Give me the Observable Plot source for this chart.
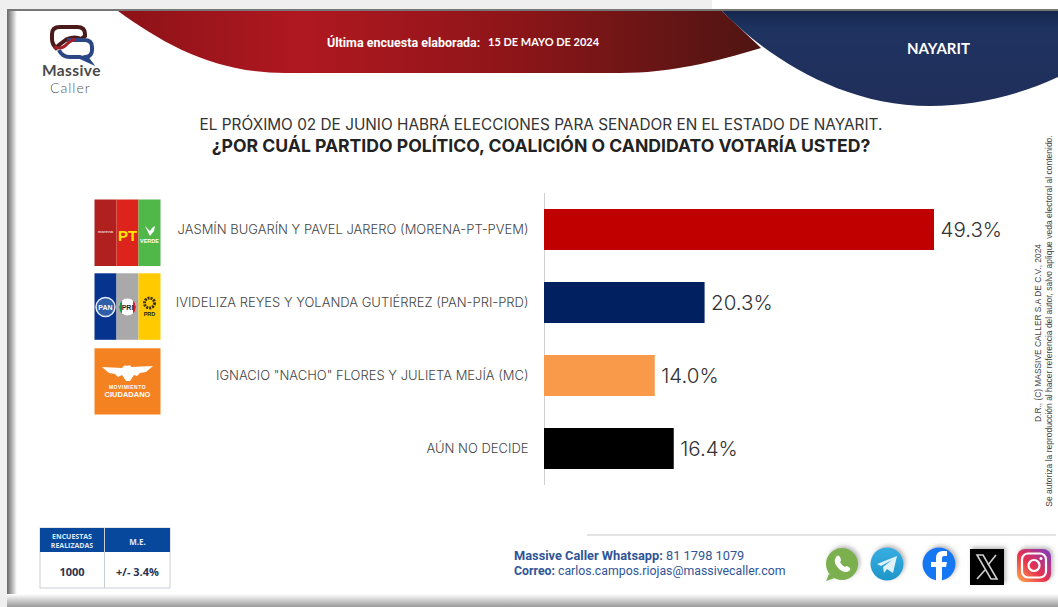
<!DOCTYPE html>
<html lang="es"><head><meta charset="utf-8">
<script src="https://cdn.jsdelivr.net/npm/d3@7"></script>
<script src="https://cdn.jsdelivr.net/npm/@observablehq/plot@0.6"></script>
<style>
html,body{margin:0;padding:0;background:#fff;overflow:hidden}
#page{position:relative;width:1058px;height:607px;overflow:hidden;font-family:Inter,sans-serif}
#deco,#chart{position:absolute;left:0;top:0}
.t{position:absolute;white-space:nowrap;line-height:1}
</style></head><body>
<div id="page">
<svg id="deco" width="1058" height="607" viewBox="0 0 1058 607" xmlns="http://www.w3.org/2000/svg">
<defs>
<linearGradient id="red" x1="118" x2="770" y1="0" y2="0" gradientUnits="userSpaceOnUse">
<stop offset="0" stop-color="#8c1218"/><stop offset=".28" stop-color="#b01820"/><stop offset=".6" stop-color="#8e1519"/><stop offset="1" stop-color="#4c1512"/></linearGradient>
<linearGradient id="navy" x1="0" x2="0" y1="10" y2="106" gradientUnits="userSpaceOnUse">
<stop offset="0" stop-color="#14264c"/><stop offset=".2" stop-color="#1f3361"/><stop offset="1" stop-color="#202e5a"/></linearGradient>
<linearGradient id="ls" x1="0" x2="1" y1="0" y2="0"><stop offset="0" stop-color="#666"/><stop offset="1" stop-color="#fff"/></linearGradient>
<linearGradient id="bs" x1="0" x2="0" y1="0" y2="1"><stop offset="0" stop-color="#fff"/><stop offset="1" stop-color="#999"/></linearGradient>
<linearGradient id="ig" x1="0" x2="1" y1="1" y2="0"><stop offset="0" stop-color="#fdb04b"/><stop offset=".45" stop-color="#e8304f"/><stop offset="1" stop-color="#7b3bc4"/></linearGradient>
<linearGradient id="tg" x1="0" x2="0" y1="0" y2="1"><stop offset="0" stop-color="#37aee2"/><stop offset="1" stop-color="#1e96c8"/></linearGradient>
<filter id="sh" x="-20%" y="-20%" width="140%" height="140%"><feDropShadow dx="2" dy="-2" stdDeviation="2" flood-color="#888" flood-opacity=".6"/></filter>
</defs>
<rect width="1058" height="607" fill="#fff"/>
<rect x="0" y="0" width="712" height="10" fill="#efefef"/>
<rect x="0" y="0" width="7" height="607" fill="#efefef"/>
<rect x="7" y="10" width="10" height="597" fill="url(#ls)"/>
<rect x="7" y="594" width="1051" height="13" fill="url(#bs)"/>
<rect x="7" y="9" width="1051" height="2" fill="#777"/>
<path d="M118 11C165 45 215 73 285 73L620 73C670 73 715 62 761 48L722 11Z" fill="url(#red)"/>
<path d="M722 11C765 55 840 106 930 106C975 106 1020 95 1058 77L1058 11Z" fill="url(#navy)"/>
<!-- logo -->
<path d="M60 27h17q8 0 8 7v2l-4 3q-6-3-14 0l-8 6l-3 3q-4-4-4-9v-5q0-7 8-7z" fill="none" stroke="#4a1a1a" stroke-width="4"/>
<path d="M67 40h17q8 0 8 7v3q0 6-6 7l3 4l-9-4H70q-8 0-11-7" fill="none" stroke="#2b4685" stroke-width="4"/>
<path d="M54 47q8 3 13-3q3-3 8-5" fill="none" stroke="#a3202a" stroke-width="3"/>
<!-- party boxes -->
<rect x="94.500" y="199.500" width="22" height="66.500" fill="#b0201f"/>
<rect x="116.500" y="199.500" width="22" height="66.500" fill="#dc241c"/>
<rect x="138.500" y="199.500" width="22" height="66.500" fill="#50b848"/>
<text x="105.500" y="233" font-family="Liberation Sans" font-size="4.200" font-weight="700" fill="#f4d8d0" text-anchor="middle">morena</text>
<text x="127.500" y="241" font-family="Liberation Sans" font-size="15" font-weight="700" fill="#ffe600" text-anchor="middle">PT</text>
<text x="149.500" y="243" font-family="Liberation Sans" font-size="5.500" font-weight="700" fill="#fff" text-anchor="middle">VERDE</text>
<path d="M145 226l5 10l4-5l1-5l-3 2l-2 3z" fill="#fff"/>
<rect x="94.500" y="273.300" width="22" height="66.500" fill="#06338e"/>
<rect x="116.500" y="273.300" width="22" height="66.500" fill="#a9a9a9"/>
<rect x="138.500" y="273.300" width="22" height="66.500" fill="#ffcb00"/>
<circle cx="105.500" cy="307" r="9.500" fill="#2f5da8" stroke="#dfe8f5" stroke-width="1.500"/>
<text x="105.500" y="310" font-family="Liberation Sans" font-size="7" font-weight="700" fill="#fff" text-anchor="middle">PAN</text>
<circle cx="127.500" cy="307" r="8.500" fill="#fff"/>
<path d="M122 300.500v13a8.500 8.500 0 0 1 0-13z" fill="#129a4a"/>
<path d="M133 300.500v13a8.500 8.500 0 0 0 0-13z" fill="#d8202a"/>
<text x="127.500" y="310" font-family="Liberation Sans" font-size="7" font-weight="700" fill="#222" text-anchor="middle">PRI</text>
<circle cx="149.500" cy="303" r="5" fill="none" stroke="#3a3000" stroke-width="3" stroke-dasharray="2 1"/>
<text x="149.500" y="316" font-family="Liberation Sans" font-size="5.500" font-weight="700" fill="#222" text-anchor="middle">PRD</text>
<rect x="94.500" y="348.300" width="66" height="66.200" fill="#f58220"/>
<path d="M102 367l20 1q3-4 5-2q4-2 4 1l22-1l-7 6l-6 1l-3 3l-3-1l-4 6h-4l-4-6l-4 2l-3-3l-6-1z" fill="#fff"/>
<text x="127.500" y="388.500" font-family="Liberation Sans" font-size="5" font-weight="700" fill="#fff" text-anchor="middle" letter-spacing=".5">MOVIMIENTO</text>
<text x="127.500" y="397" font-family="Liberation Sans" font-size="7.500" font-weight="700" fill="#fff" text-anchor="middle">CIUDADANO</text>
<!-- table -->
<rect x="40" y="528" width="130" height="60" fill="#fff" stroke="#c9ced6"/>
<rect x="40" y="528" width="130" height="24" fill="#07479c"/>
<line x1="104.500" x2="104.500" y1="528" y2="588" stroke="#c9ced6"/>
<!-- footer -->
<line x1="587" x2="1056" y1="535" y2="535" stroke="#c8c8c8"/>
<g filter="url(#sh)"><circle cx="842" cy="564" r="16" fill="#7cb04f"/><path d="M829 574l-3 7l9-3z" fill="#7cb04f"/></g>
<path d="M836 557q2-3 4 0l1 3q0 1-1 2q2 4 5 5q1-1 2-1l3 2q1 2-1 3q-3 2-7 0q-5-3-7-8q-1-3 1-6z" fill="#fff"/>
<circle cx="887" cy="564" r="16.500" fill="url(#tg)" filter="url(#sh)"/>
<path d="M877 564l20-8l-4 17l-6-4l-3 4l-1-6l9-7l-11 6z" fill="#dff1fa"/>
<circle cx="939" cy="564" r="16.500" fill="#1877f2" filter="url(#sh)"/>
<path d="M936 581v-14h-5v-5h5v-4q0-7 7-7h4v5h-3q-2 0-2 2v4h5l-1 5h-4v14z" fill="#fff"/>
<rect x="970" y="549" width="34" height="36" fill="#000" filter="url(#sh)"/>
<path d="M977 555h6l14 24h-6z" fill="none" stroke="#cfcfcf" stroke-width="1.600"/>
<path d="M996 555l-8 10M985 570l-8 9" stroke="#cfcfcf" stroke-width="1.600"/>
<rect x="1017" y="549" width="34" height="33" rx="8" fill="url(#ig)" filter="url(#sh)"/>
<rect x="1022" y="553.500" width="24" height="24" rx="6" fill="none" stroke="#fff" stroke-width="2.200"/>
<circle cx="1034" cy="565.500" r="5.500" fill="none" stroke="#fff" stroke-width="2.200"/>
<circle cx="1041" cy="558.500" r="1.500" fill="#fff"/>
</svg>
<div id="chart"></div>
<div class="t" style="left:42px;top:61px;font:700 15.500px Lato;color:#4a4a4a;letter-spacing:.4px">Massive</div>
<div class="t" style="left:50px;top:79px;font:300 14px Lato;color:#555;letter-spacing:1px">Caller</div>
<div class="t" style="left:327px;top:35px;font:700 12.500px Roboto;color:#fff">Última encuesta elaborada:</div>
<div class="t" style="left:488px;top:35px;font:700 11px Lato;color:#fff">15 DE MAYO DE 2024</div>
<div class="t" style="left:907px;top:39px;font:700 15px Lato;color:#fff">NAYARIT</div>
<div class="t" style="left:0;width:1082px;text-align:center;top:115px;font:400 15.350px Inter;color:#333">EL PRÓXIMO 02 DE JUNIO HABRÁ ELECCIONES PARA SENADOR EN EL ESTADO DE NAYARIT.</div>
<div class="t" style="left:0;width:1082px;text-align:center;top:135px;font:700 17.600px Inter;color:#222">¿POR CUÁL PARTIDO POLÍTICO, COALICIÓN O CANDIDATO VOTARÍA USTED?</div>
<div class="t" style="left:40px;width:64px;text-align:center;top:532px;font:700 7px/9px 'Open Sans';color:#dfe8f5">ENCUESTAS<br>REALIZADAS</div>
<div class="t" style="left:105px;width:65px;text-align:center;top:536px;font:700 8px 'Open Sans';color:#dfe8f5">M.E.</div>
<div class="t" style="left:40px;width:64px;text-align:center;top:564px;font:700 11px 'Open Sans';color:#2b3350">1000</div>
<div class="t" style="left:105px;width:65px;text-align:center;top:564px;font:700 11px 'Open Sans';color:#2b3350">+/- 3.4%</div>
<div class="t" style="left:514px;top:548px;font:400 12.800px Roboto;color:#2f5597"><b>Massive Caller Whatsapp:</b> 81 1798 1079</div>
<div class="t" style="left:514px;top:564px;font:400 12.300px Roboto;color:#2f5597"><b>Correo:</b> carlos.campos.riojas@massivecaller.com</div>
<div class="t" style="left:1038px;top:333px;transform:translate(-50%,-50%) rotate(-90deg);font:400 8.400px 'Liberation Sans';color:#444">D.R., (C) MASSIVE CALLER S.A DE C.V., 2024</div>
<div class="t" style="left:1049px;top:321px;transform:translate(-50%,-50%) rotate(-90deg);font:400 8.500px 'Liberation Sans';color:#444">Se autoriza la reproducción al hacer referencia del autor, salvo aplique veda electoral al contenido.</div>
</div>
<script>
const categories = [
  "JASMÍN BUGARÍN Y PAVEL JARERO (MORENA-PT-PVEM)",
  "IVIDELIZA REYES Y YOLANDA GUTIÉRREZ (PAN-PRI-PRD)",
  'IGNACIO "NACHO" FLORES Y JULIETA MEJÍA (MC)',
  "AÚN NO DECIDE"
];
const values = [49.3, 20.3, 14.0, 16.4];
const barColors = ["#c00000", "#002060", "#f89a4a", "#000000"];
const rows = categories.map((c, i) => ({c, v: values[i], col: barColors[i]}));

const chart = Plot.plot({
  width: 1058, height: 607,
  marginTop: 193, marginBottom: 122, marginLeft: 544, marginRight: 124,
  style: {background: "transparent", overflow: "visible"},
  x: {domain: [0, 49.3], range: [544, 934], axis: null},
  y: {domain: categories, paddingInner: 0.445, paddingOuter: 0.22, label: null},
  marks: [
    Plot.ruleX([0], {stroke: "#d0d0d0"}),
    Plot.barX(rows, {x: "v", y: "c", fill: "col"}),
    Plot.text(rows, {x: "v", y: "c", text: d => d.v.toFixed(1) + "%", textAnchor: "start", dx: 6,
      fontSize: 20.500, fontWeight: 300, fill: "#333", fontFamily: "Inter"}),
    Plot.axisY({tickSize: 0, tickPadding: 16, label: null, fontSize: 13, fontWeight: 300, fill: "#444",
      fontFamily: "Inter", tickFormat: d => d, lineWidth: 60})
  ]
});
document.getElementById("chart").appendChild(chart);
</script>
</body></html>
